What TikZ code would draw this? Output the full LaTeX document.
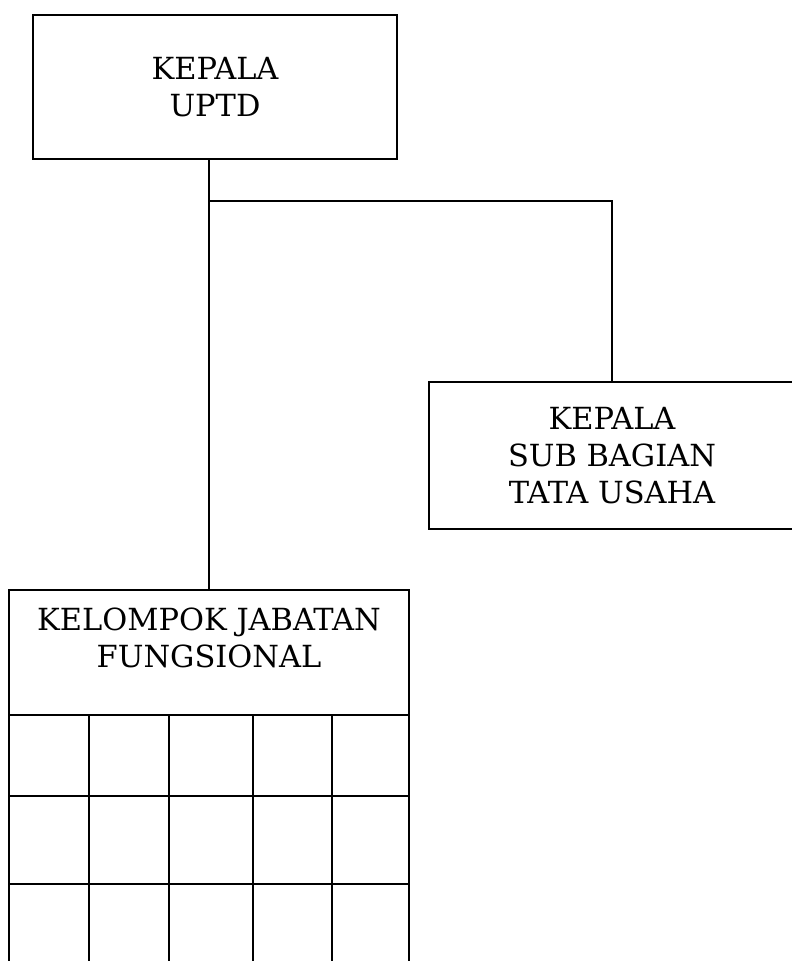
\documentclass[tikz,border=0pt]{standalone}
\usepackage{tikz}
\usepackage{fontspec}
\setmainfont{DejaVu Serif}
\tikzset{
    unitbox/.style={draw,line width=1.4pt,align=center,font=\fontsize{26}{31.5}\selectfont},
    link/.style={line width=1.4pt}
}
\begin{document}
\begin{tikzpicture}[x=0.03cm,y=-0.03cm]
        \useasboundingbox (0,0) rectangle (791,961);
        \node[unitbox,minimum width=10.92cm,minimum height=4.32cm] (uptd) at (215,87) {KEPALA\\UPTD};
        \node[unitbox,minimum width=10.98cm,minimum height=4.41cm] (tu) at (612,455.5) {KEPALA\\SUB BAGIAN\\TATA USAHA};
        \node[unitbox,minimum width=12cm,minimum height=3.75cm,anchor=north,inner ysep=0.5cm,text depth=0.9cm] (jf) at (209,589) {KELOMPOK JABATAN\\FUNGSIONAL};
        \coordinate (branch) at (209,201);
        \draw[link] (jf.north) -- (jf.north |- uptd.south);
        \draw[link] (branch) -| (tu.north);
        % grid of the functional group
        \foreach \y in {796,884}{
            \draw[link] (9,\y) -- (409,\y);
        }
        \foreach \x in {9,89,169,253,332,409}{
            \draw[link] (\x,714) -- (\x,970);
        }
    \end{tikzpicture}
\end{document}
